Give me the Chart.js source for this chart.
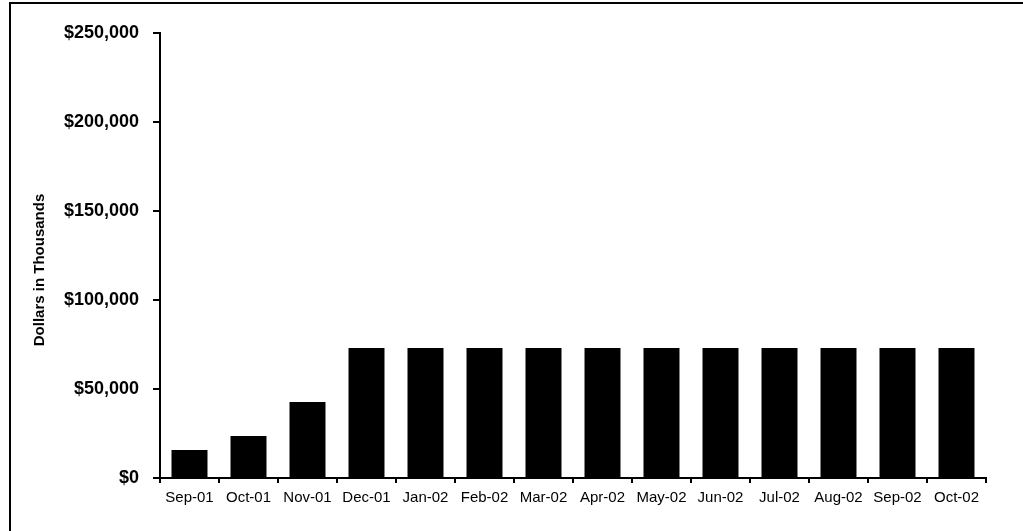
<!DOCTYPE html>
<html>
<head>
<meta charset="utf-8">
<title>Dollars in Thousands</title>
<script src="https://cdn.jsdelivr.net/npm/chart.js@4"></script>
<style>
    body { margin: 0; background: #fff; }
    .wrap { position: relative; width: 1023px; height: 531px; overflow: hidden; }
    .frame { position: absolute; left: 9px; top: 2px; width: 2000px; height: 2000px;
             border-left: 2px solid #000; border-top: 2px solid #000; }
    canvas { position: absolute; left: 0; top: 0; }
</style>
</head>
<body>
<div class="wrap">
    <div class="frame"></div>
    <canvas id="chart" width="1023" height="531"></canvas>
</div>
<script>
// 数据
const months = ['Sep-01', 'Oct-01', 'Nov-01', 'Dec-01', 'Jan-02', 'Feb-02', 'Mar-02',
                'Apr-02', 'May-02', 'Jun-02', 'Jul-02', 'Aug-02', 'Sep-02', 'Oct-02'];
const dollars = [15700, 23600, 42700, 73000, 73000, 73000, 73000,
                 73000, 73000, 73000, 73000, 73000, 73000, 73000];
const yTicks = [0, 50000, 100000, 150000, 200000, 250000];
const yTitle = 'Dollars in Thousands';

// 纵轴标题
const yTitlePlugin = {
    id: 'yTitle',
    afterDraw(chart) {
        const ctx = chart.ctx;
        ctx.save();
        ctx.translate(40, 270);
        ctx.rotate(-Math.PI / 2);
        ctx.font = 'bold 15px "Liberation Sans", Arial, sans-serif';
        ctx.fillStyle = '#000';
        ctx.textAlign = 'center';
        ctx.textBaseline = 'middle';
        ctx.fillText(yTitle, 0, 0);
        ctx.restore();
    }
};

new Chart(document.getElementById('chart').getContext('2d'), {
    type: 'bar',
    data: {
        labels: months,
        datasets: [{
            data: dollars,
            backgroundColor: '#000',
            borderWidth: 0,
            barPercentage: 0.61,
            categoryPercentage: 1
        }]
    },
    options: {
        responsive: false,
        animation: false,
        layout: { padding: { left: 0, right: 37, top: 33, bottom: 0 } },
        plugins: {
            legend: { display: false },
            tooltip: { enabled: false }
        },
        scales: {
            x: {
                afterFit(scale) { scale.height = 53; },
                border: { color: '#000', width: 2 },
                grid: {
                    drawOnChartArea: false,
                    color: '#000',
                    lineWidth: 2,
                    tickLength: 5,
                    offset: true
                },
                ticks: {
                    color: '#000',
                    font: { family: '"Liberation Sans", Arial, sans-serif', size: 15 },
                    padding: 6,
                    maxRotation: 0,
                    autoSkip: false
                }
            },
            y: {
                min: 0,
                max: 250000,
                afterFit(scale) { scale.width = 160; },
                afterBuildTicks(scale) { scale.ticks = yTicks.map(v => ({ value: v })); },
                border: { color: '#000', width: 2 },
                grid: {
                    drawOnChartArea: false,
                    color: '#000',
                    lineWidth: 2,
                    tickLength: 7
                },
                ticks: {
                    color: '#000',
                    font: { family: '"Liberation Sans", Arial, sans-serif', size: 18, weight: 'bold' },
                    padding: 14,
                    callback: v => '$' + v.toLocaleString('en-US')
                }
            }
        }
    },
    plugins: [yTitlePlugin]
});
</script>
</body>
</html>
